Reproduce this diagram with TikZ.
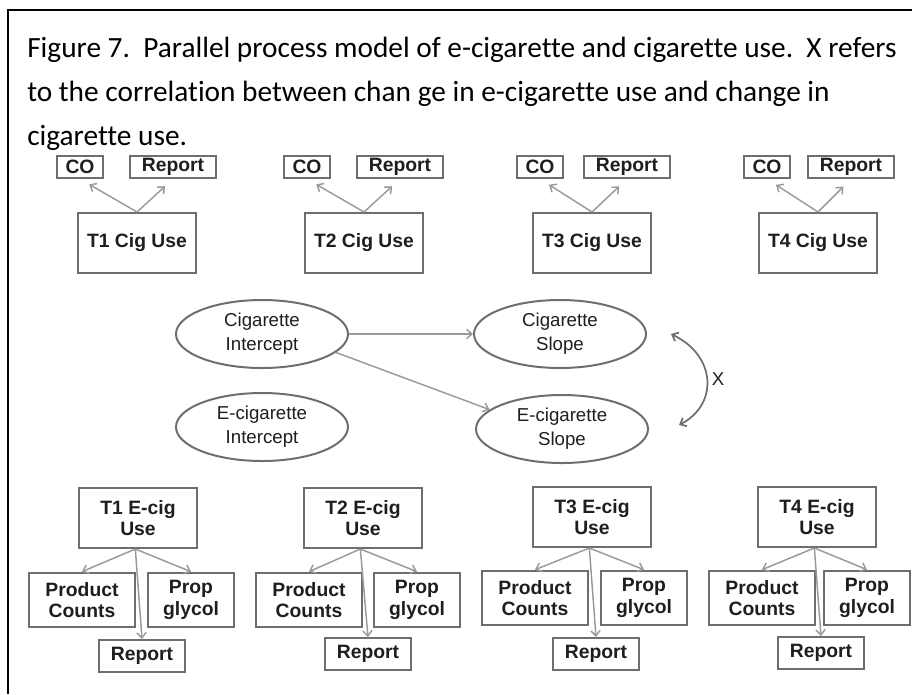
\documentclass[tikz,border=0pt]{standalone}
\usepackage{fontspec}
\setmainfont{Carlito}[Ligatures=NoCommon]
\newfontfamily\arialfont{Liberation Sans}
\usetikzlibrary{shapes.geometric,arrows.meta,calc}

\definecolor{boxgray}{HTML}{6E6E6E}
\definecolor{arrowgray}{HTML}{9A9A9A}
\definecolor{inkgray}{HTML}{1E1E1E}

\tikzset{
  caption/.style={anchor=base west, inner sep=0pt, font=\fontsize{22}{33}\selectfont},
  varbox/.style={draw=boxgray, line width=1.5pt, text=inkgray, align=center, inner sep=0pt,
    font=\arialfont\bfseries\fontsize{14.5}{16}\selectfont},
  usebox/.style={varbox, minimum width=88pt, minimum height=45pt},
  cobox/.style={varbox, minimum width=34pt, minimum height=16.5pt},
  repbox/.style={varbox, minimum width=64pt, minimum height=16.5pt},
  prodbox/.style={varbox, minimum width=80pt, minimum height=41pt},
  propbox/.style={varbox, minimum width=65pt, minimum height=41pt},
  rptbox/.style={varbox, minimum width=65pt, minimum height=24pt},
  latent/.style={ellipse, draw=boxgray, line width=1.5pt, text=inkgray, align=center, inner sep=0pt,
    minimum width=129pt, minimum height=51pt, font=\arialfont\fontsize{14}{18}\selectfont},
  load/.style={draw=arrowgray, line width=1.1pt, -{Straight Barb[length=4pt,width=7pt]}},
  dbl/.style={draw=boxgray, line width=1.3pt, {Straight Barb[length=4pt,width=7pt]}-{Straight Barb[length=4pt,width=7pt]}}
}

\begin{document}
\begin{tikzpicture}[x=0.75pt, y=-0.75pt]

    % Page size of the reference
    \useasboundingbox (0,0) rectangle (912,694);

    % Frame: top rule and left rule only
    \coordinate (FL) at (8,10);
    \coordinate (FR) at (912,10);
    \coordinate (FB) at (8,694);
    \draw[line width=1.5pt] (FR) -- (FL) -- (FB);

    % Caption, one node per printed line
    \node[caption] (cap1) at (27,57) {Figure 7.\ \ Parallel process model of e-cigarette and cigarette use.\ \ X refers};
    \node[caption] (cap2) at (27,101) {to the correlation between chan\hspace{5pt}ge in e-cigarette use and change in};
    \node[caption] (cap3) at (27,145) {cigarette use.};

    % Cigarette use indicators (top row)
    \node[cobox]  (co1)  at (80,167)  {CO};
    \node[repbox] (rep1) at (173,167) {Report};
    \node[usebox] (cig1) at (137,243) {T1 Cig Use};

    \node[cobox]  (co2)  at (307,167) {CO};
    \node[repbox] (rep2) at (400,167) {Report};
    \node[usebox] (cig2) at (364,243) {T2 Cig Use};

    \node[cobox]  (co3)  at (540,167) {CO};
    \node[repbox] (rep3) at (627,167) {Report};
    \node[usebox] (cig3) at (592,243) {T3 Cig Use};

    \node[cobox]  (co4)  at (767,167) {CO};
    \node[repbox] (rep4) at (851,167) {Report};
    \node[usebox] (cig4) at (818,243) {T4 Cig Use};

    % Growth factors
    \node[latent] (cint)   at (262,334) {Cigarette\\Intercept};
    \node[latent] (cslope) at (560,334) {Cigarette\\Slope};
    \node[latent] (eint)   at (262,427) {E-cigarette\\Intercept};
    \node[latent] (eslope) at (562,429) {E-cigarette\\Slope};

    % E-cigarette use indicators (bottom row)
    \node[usebox]   (ecig1) at (138,518) {T1 E-cig\\Use};
    \node[prodbox]  (prod1) at (82,600)  {Product\\Counts};
    \node[propbox]  (prop1) at (191,600) {Prop\\glycol};
    \node[rptbox]   (rpt1)  at (142,656) {Report};

    \node[usebox]   (ecig2) at (363,518) {T2 E-cig\\Use};
    \node[prodbox]  (prod2) at (309,600) {Product\\Counts};
    \node[propbox]  (prop2) at (417,600) {Prop\\glycol};
    \node[rptbox]   (rpt2)  at (368,654) {Report};

    \node[usebox]   (ecig3) at (592,517) {T3 E-cig\\Use};
    \node[prodbox]  (prod3) at (535,598) {Product\\Counts};
    \node[propbox]  (prop3) at (644,598) {Prop\\glycol};
    \node[rptbox]   (rpt3)  at (596,654) {Report};

    \node[usebox]   (ecig4) at (817,517) {T4 E-cig\\Use};
    \node[prodbox]  (prod4) at (762,598) {Product\\Counts};
    \node[propbox]  (prop4) at (867,598) {Prop\\glycol};
    \node[rptbox]   (rpt4)  at (821,653) {Report};

    % Loadings of cigarette use on CO and report (heads stop short of the boxes)
    \draw[load, shorten >=8pt] (cig1.north) -- (co1.south);
    \draw[load, shorten >=8pt] (cig1.north) -- (rep1.south);
    \draw[load, shorten >=8pt] (cig2.north) -- (co2.south);
    \draw[load, shorten >=8pt] (cig2.north) -- (rep2.south);
    \draw[load, shorten >=8pt] (cig3.north) -- (co3.south);
    \draw[load, shorten >=8pt] (cig3.north) -- (rep3.south);
    \draw[load, shorten >=8pt] (cig4.north) -- (co4.south);
    \draw[load, shorten >=8pt] (cig4.north) -- (rep4.south);

    % Loadings of e-cig use on its three measures
    \draw[load] ([xshift=-2pt]ecig1.south) -- (prod1.north);
    \draw[load] ([xshift=-2pt]ecig1.south) -- (prop1.north);
    \draw[load] ([xshift=-2pt]ecig1.south) -- (rpt1.north);
    \draw[load] ([xshift=-2pt]ecig2.south) -- (prod2.north);
    \draw[load] ([xshift=-2pt]ecig2.south) -- (prop2.north);
    \draw[load] ([xshift=-2pt]ecig2.south) -- (rpt2.north);
    \draw[load] ([xshift=-2pt]ecig3.south) -- (prod3.north);
    \draw[load] ([xshift=-2pt]ecig3.south) -- (prop3.north);
    \draw[load] ([xshift=-2pt]ecig3.south) -- (rpt3.north);
    \draw[load] ([xshift=-2pt]ecig4.south) -- (prod4.north);
    \draw[load] ([xshift=-2pt]ecig4.south) -- (prop4.north);
    \draw[load] ([xshift=-2pt]ecig4.south) -- (rpt4.north);

    % Paths between growth factors
    \draw[load] (cint.east) -- (cslope.west);
    \draw[load] (cint.-14) -- (eslope.165);

    % Correlation X between the two slopes
    \coordinate (xa) at ($(cslope.east)+(24,0)$);
    \coordinate (xb) at ($(eslope.east)+(30,-4)$);
    \draw[dbl] (xa) .. controls ($(xa)+(46,22)$) and ($(xb)+(39,-20)$) .. (xb);
    \node[font=\arialfont\fontsize{14}{16}\selectfont, text=inkgray] (xlab) at (718,379) {X};

\end{tikzpicture}
\end{document}
